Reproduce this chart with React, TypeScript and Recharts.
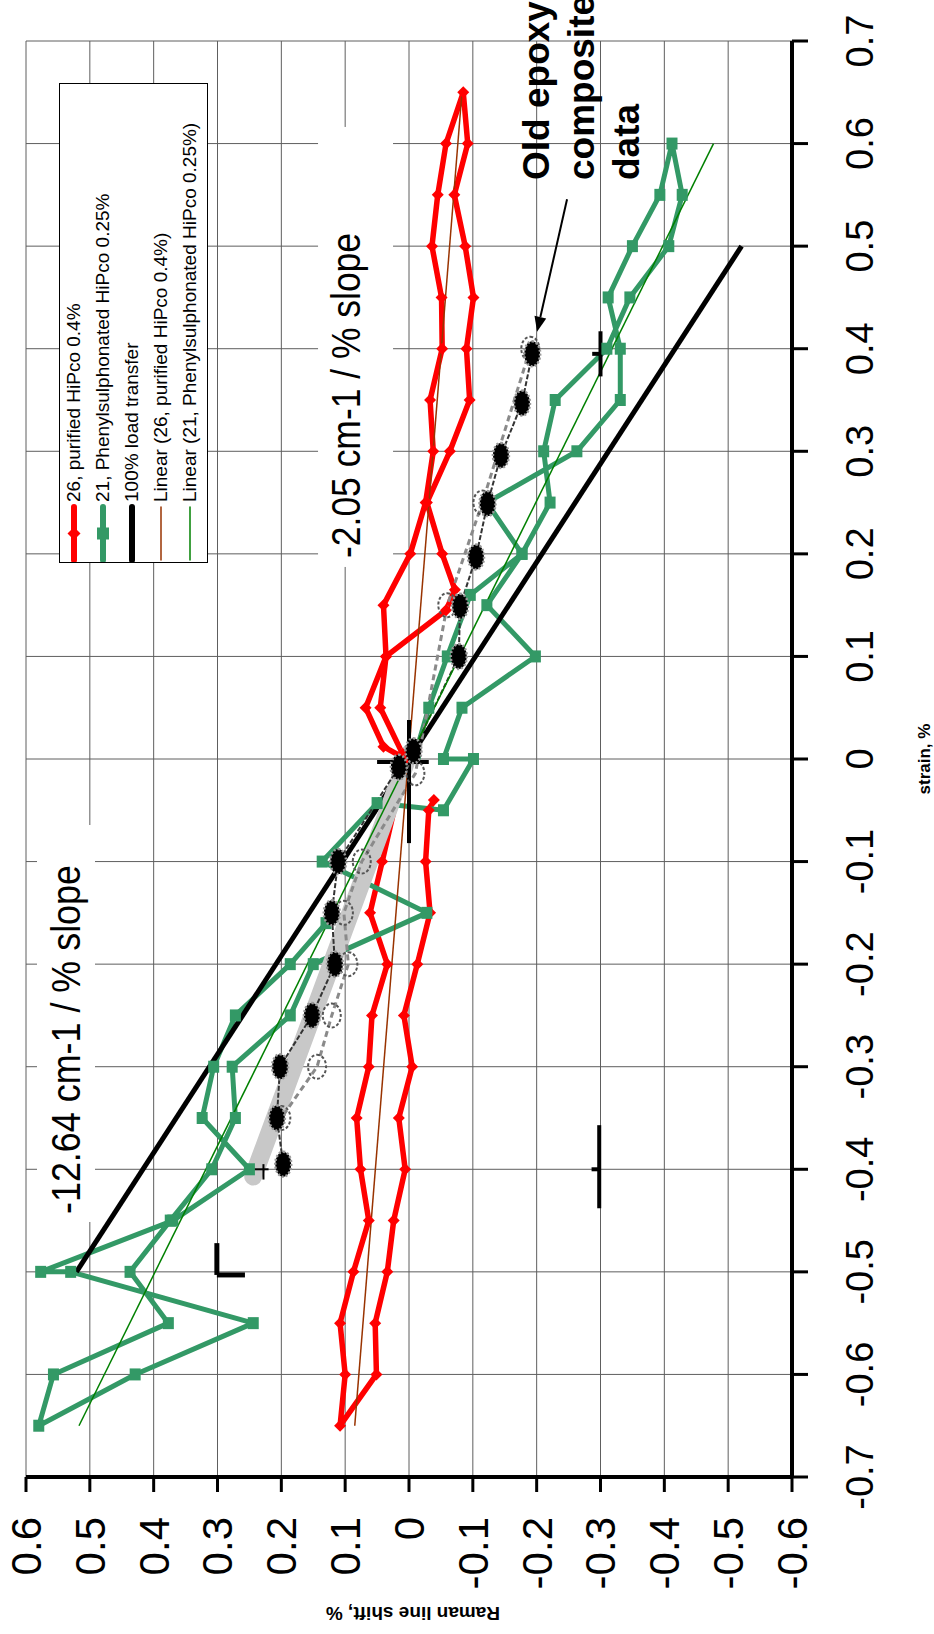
import React from 'react';
import { ComposedChart, Line, Scatter, XAxis, YAxis, CartesianGrid, ReferenceLine } from 'recharts';

const FONT = 'Arial, "Liberation Sans", Helvetica, sans-serif';

const strainTicks = [-0.7, -0.6, -0.5, -0.4, -0.3, -0.2, -0.1, 0, 0.1, 0.2, 0.3, 0.4, 0.5, 0.6, 0.7];
const shiftTicks = [-0.6, -0.5, -0.4, -0.3, -0.2, -0.1, 0, 0.1, 0.2, 0.3, 0.4, 0.5, 0.6];

// 26, purified HiPco 0.4%
const purifiedStrain = [
  0.005, 0.05, 0.1, 0.15, 0.2, 0.25, 0.3, 0.35, 0.4, 0.45, 0.5, 0.55, 0.6, 0.65,
  0.6, 0.55, 0.5, 0.45, 0.4, 0.35, 0.3, 0.25, 0.2, 0.165, 0.145, 0.1, 0.05, 0.012, 0.0,
  -0.1, -0.15, -0.2, -0.25, -0.3, -0.35, -0.4, -0.45, -0.5, -0.55, -0.6, -0.65,
  -0.6, -0.55, -0.5, -0.45, -0.4, -0.35, -0.3, -0.25, -0.2, -0.15, -0.1, -0.05, -0.04,
];
const purifiedShift = [
  0.01, 0.045, 0.036, 0.04, -0.002, -0.026, -0.038, -0.033, -0.052, -0.051, -0.036, -0.045, -0.058, -0.085,
  -0.092, -0.071, -0.088, -0.101, -0.09, -0.095, -0.064, -0.028, -0.052, -0.072, -0.058, 0.036, 0.068, 0.04, 0.005,
  0.042, 0.061, 0.034, 0.058, 0.063, 0.082, 0.076, 0.063, 0.087, 0.108, 0.1, 0.108,
  0.051, 0.053, 0.034, 0.024, 0.006, 0.016, -0.005, 0.008, -0.013, -0.033, -0.026, -0.031, -0.039,
];

// 21, Phenylsulphonated HiPco 0.25%
const sulphStrain = [
  0.005, 0.05, 0.1, 0.16, 0.2, 0.25, 0.3, 0.35, 0.4, 0.45, 0.5, 0.55, 0.6,
  0.55, 0.5, 0.45, 0.4, 0.35, 0.3, 0.25, 0.2, 0.15, 0.1, 0.05, 0.0, 0.0,
  -0.05, -0.043, -0.1, -0.15, -0.2, -0.25, -0.3, -0.35, -0.4, -0.45, -0.5, -0.55, -0.6, -0.65,
  -0.6, -0.55, -0.5, -0.5, -0.45, -0.4, -0.35, -0.3, -0.25, -0.2, -0.16,
];
const sulphShift = [
  -0.01, -0.031, -0.06, -0.096, -0.177, -0.221, -0.211, -0.229, -0.31, -0.346, -0.407, -0.428, -0.412,
  -0.393, -0.35, -0.312, -0.331, -0.331, -0.263, -0.122, -0.177, -0.122, -0.198, -0.083, -0.054, -0.101,
  -0.054, 0.05, 0.136, -0.028, 0.15, 0.186, 0.277, 0.272, 0.309, 0.374, 0.437, 0.377, 0.557, 0.58,
  0.429, 0.244, 0.53, 0.577, 0.37, 0.25, 0.324, 0.306, 0.272, 0.186, 0.13,
];

// 100% load transfer and the two linear fits
const loadStrain = [-0.5, 0.5];
const loadShift = [0.521, -0.521];
const fitPurifiedStrain = [-0.65, 0.65];
const fitPurifiedShift = [0.085, -0.083];
const fitSulphStrain = [-0.65, 0.6];
const fitSulphShift = [0.517, -0.477];

// old epoxy composite data
const epoxyStrain = [0.395, 0.347, 0.296, 0.249, 0.197, 0.149, 0.1, 0.008, -0.008, -0.1, -0.15, -0.2, -0.25, -0.3, -0.35, -0.395];
const epoxyShift = [-0.193, -0.177, -0.144, -0.123, -0.105, -0.08, -0.078, -0.007, 0.016, 0.111, 0.121, 0.116, 0.152, 0.202, 0.207, 0.197];
const epoxyOpenStrain = [0.4, 0.25, 0.15, -0.014, -0.1, -0.15, -0.2, -0.25, -0.3, -0.35];
const epoxyOpenShift = [-0.19, -0.115, -0.06, -0.01, 0.074, 0.102, 0.095, 0.121, 0.144, 0.2];
const epoxyBandStrain = [0.005, -0.407];
const epoxyBandShift = [0.0, 0.244];

// error-bar style marks: [strain1, shift1, strain2, shift2, width]
const errorMarks = [
  [-0.082, 0, 0.038, 0, 4],
  [-0.003, 0.05, -0.003, -0.031, 4],
  [0.373, -0.3, 0.417, -0.3, 4],
  [0.395, -0.287, 0.395, -0.3, 4],
  [-0.438, -0.298, -0.357, -0.298, 4],
  [-0.4, -0.286, -0.4, -0.298, 4],
  [-0.503, 0.301, -0.472, 0.301, 5],
  [-0.503, 0.301, -0.503, 0.257, 5],
  [-0.4, 0.254, -0.4, 0.22, 2],
  [-0.41, 0.228, -0.395, 0.228, 2],
];

const arrowFrom = { x: 0.5457, y: -0.2476 };
const arrowTo = { x: 0.4166, y: -0.2006 };

const slopeLow = { x: -0.4436, y: 0.5154, text: '-12.64 cm-1 / % slope' };
const slopeHigh = { x: 0.196, y: 0.0767, text: '-2.05 cm-1 / % slope' };
const epoxyNote = { x: 0.5645, y: -0.219, lines: ['Old epoxy', 'composite', 'data'] };

const legendItems = [
  { name: '26, purified HiPco 0.4%', color: '#ff0000', width: 6, mark: 'diamond' },
  { name: '21, Phenylsulphonated HiPco 0.25%', color: '#339966', width: 6, mark: 'square' },
  { name: '100% load transfer', color: '#000000', width: 6, mark: 'none' },
  { name: 'Linear (26, purified HiPco 0.4%)', color: '#993300', width: 1.5, mark: 'none' },
  { name: 'Linear (21, Phenylsulphonated HiPco 0.25%)', color: '#008000', width: 1.5, mark: 'none' },
];

const zip = (xs: number[], ys: number[]) => xs.map((x, i) => ({ x, y: ys[i] }));

const ok = (p: any) => Number.isFinite(p.cx) && Number.isFinite(p.cy);

const Diamond = (p: any) => {
  if (!ok(p)) return <g key={'rd' + p.index} />;
  const { cx, cy } = p;
  return <path key={'rd' + p.index} d={`M${cx - 6},${cy} L${cx},${cy - 6} L${cx + 6},${cy} L${cx},${cy + 6} Z`} fill="#ff0000" />;
};

const Square = (p: any) => {
  if (!ok(p)) return <g key={'gs' + p.index} />;
  return <rect key={'gs' + p.index} x={p.cx - 6} y={p.cy - 5.5} width={12} height={11} fill="#339966" />;
};

const BlackBlob = (p: any) => {
  if (!ok(p)) return <g key={'bb' + p.index} />;
  return (
    <ellipse key={'bb' + p.index} cx={p.cx} cy={p.cy} rx={12.5} ry={8} fill="#000"
      stroke="#9a9a9a" strokeWidth={2.5} strokeDasharray="2 2" />
  );
};

const OpenBlob = (p: any) => {
  if (!ok(p)) return <g key={'ob' + p.index} />;
  return (
    <ellipse key={'ob' + p.index} cx={p.cx} cy={p.cy} rx={12} ry={9} fill="none"
      stroke="#555" strokeWidth={2} strokeDasharray="3 2" />
  );
};

const ArrowShape = (p: any) => {
  const { x1, y1, x2, y2 } = p;
  if (![x1, y1, x2, y2].every(Number.isFinite)) return <g />;
  const a = Math.atan2(y2 - y1, x2 - x1);
  const L = 15, W = 6;
  const bx = x2 - L * Math.cos(a);
  const by = y2 - L * Math.sin(a);
  const pts = `${x2},${y2} ${bx + W * Math.sin(a)},${by - W * Math.cos(a)} ${bx - W * Math.sin(a)},${by + W * Math.cos(a)}`;
  return (
    <g>
      <line x1={x1} y1={y1} x2={bx} y2={by} stroke="#000" strokeWidth={2} />
      <polygon points={pts} fill="#000" />
    </g>
  );
};

const SlopeText = (boxLeft: number, boxRight: number, boxTop: number, boxBottom: number, len: number) => (p: any) => {
  if (!ok(p)) return <g />;
  const { cx, cy, payload } = p;
  return (
    <g>
      <rect x={cx - boxLeft} y={cy - boxTop} width={boxLeft + boxRight} height={boxTop + boxBottom} fill="#fff" />
      <text x={cx} y={cy} fontSize={41} fontFamily={FONT} fill="#000" textLength={len} lengthAdjust="spacingAndGlyphs">
        {payload.text}
      </text>
    </g>
  );
};

const EpoxyText = (p: any) => {
  if (!ok(p)) return <g />;
  return (
    <text x={p.cx} y={p.cy} fontSize={37} fontWeight="bold" fontFamily={FONT} fill="#000">
      {epoxyNote.lines.map((l, i) => (
        <tspan key={l} x={p.cx} y={p.cy + i * 45}>{l}</tspan>
      ))}
    </text>
  );
};

const StrainLabel = (p: any) => {
  const vb = p.viewBox || { x: 157, y: 792, width: 1436, height: 142 };
  return (
    <text x={vb.x + vb.width / 2} y={vb.y + 138} textAnchor="middle" fontSize={17} fontWeight="bold" fontFamily={FONT} fill="#000">
      strain, %
    </text>
  );
};

const ShiftLabel = (p: any) => {
  const vb = p.viewBox || { x: 0, y: 26, width: 157, height: 766 };
  const x = vb.x + 27;
  const y = vb.y + vb.height / 2 + 4;
  return (
    <text x={x} y={y} transform={`rotate(-90, ${x}, ${y})`} textAnchor="middle" fontSize={19} fontWeight="bold" fontFamily={FONT} fill="#000">
      Raman line shift, %
    </text>
  );
};

function LegendBox() {
  return (
    <div style={{
      position: 'absolute', left: 1071, top: 59, width: 480, height: 149, boxSizing: 'border-box',
      border: '1.5px solid #000', background: '#fff', fontFamily: FONT, fontSize: 19, color: '#000',
    }}>
      {legendItems.map((it) => (
        <div key={it.name} style={{ display: 'flex', alignItems: 'center', height: 28.8, whiteSpace: 'nowrap' }}>
          <svg width={58} height={28} style={{ flex: 'none' }}>
            <line x1={2} y1={14} x2={55} y2={14} stroke={it.color} strokeWidth={it.width} strokeLinecap="round" />
            {it.mark === 'diamond' && <path d="M22,14 L28.5,7.5 L35,14 L28.5,20.5 Z" fill={it.color} />}
            {it.mark === 'square' && <rect x={22.5} y={8} width={12} height={12} fill={it.color} />}
          </svg>
          <span style={{ marginLeft: 2 }}>{it.name}</span>
        </div>
      ))}
    </div>
  );
}

export default function App() {
  const tickStyle = { fill: '#000', fontFamily: FONT };
  return (
    <div style={{ position: 'fixed', left: 0, top: 0, width: 934, height: 1634, overflow: 'hidden', background: '#fff' }}>
      <div style={{
        position: 'absolute', left: 0, top: 0, width: 1634, height: 934,
        transformOrigin: '0 0', transform: 'translate(0px, 1634px) rotate(-90deg)',
      }}>
        <ComposedChart width={1634} height={934} margin={{ top: 26, right: 41, left: 0, bottom: 0 }}>
          <CartesianGrid stroke="#5e5e5e" strokeWidth={1} />
          <XAxis
            type="number" dataKey="x" domain={[-0.7, 0.7]} ticks={strainTicks} interval={0}
            height={142} tickSize={16} tickMargin={38}
            axisLine={{ stroke: '#000', strokeWidth: 4 }} tickLine={{ stroke: '#000', strokeWidth: 3 }}
            tick={{ ...tickStyle, fontSize: 38 }} tickFormatter={(v) => String(v)}
            label={StrainLabel}
          />
          <YAxis
            type="number" dataKey="y" domain={[-0.6, 0.6]} ticks={shiftTicks} interval={0}
            width={157} tickSize={15} tickMargin={25}
            axisLine={{ stroke: '#000', strokeWidth: 4 }} tickLine={{ stroke: '#000', strokeWidth: 3 }}
            tick={{ ...tickStyle, fontSize: 42 }} tickFormatter={(v) => String(v)}
            label={ShiftLabel}
          />

          <Scatter data={[slopeLow]} dataKey="y" shape={SlopeText(8, 389, 43, 15, 349)} isAnimationActive={false} />
          <Scatter data={[slopeHigh]} dataKey="y" shape={SlopeText(9, 431, 42, 33, 325)} isAnimationActive={false} />

          <Line data={zip(purifiedStrain, purifiedShift)} dataKey="y" stroke="#ff0000" strokeWidth={5.5}
            strokeLinejoin="round" dot={Diamond} activeDot={false} isAnimationActive={false} />
          <Line data={zip(sulphStrain, sulphShift)} dataKey="y" stroke="#339966" strokeWidth={5}
            strokeLinejoin="round" dot={Square} activeDot={false} isAnimationActive={false} />
          <Line data={zip(loadStrain, loadShift)} dataKey="y" stroke="#000" strokeWidth={5}
            dot={false} activeDot={false} isAnimationActive={false} />

          <Line data={zip(epoxyBandStrain, epoxyBandShift)} dataKey="y" stroke="#c8c8c8" strokeWidth={18}
            strokeLinecap="round" dot={false} activeDot={false} isAnimationActive={false} />
          <Line data={zip(epoxyOpenStrain, epoxyOpenShift)} dataKey="y" stroke="#8a8a8a" strokeWidth={3}
            strokeDasharray="6 4" dot={OpenBlob} activeDot={false} isAnimationActive={false} />
          <Line data={zip(epoxyStrain, epoxyShift)} dataKey="y" stroke="#333" strokeWidth={2}
            strokeDasharray="5 2" dot={BlackBlob} activeDot={false} isAnimationActive={false} />

          <Line data={zip(fitPurifiedStrain, fitPurifiedShift)} dataKey="y" stroke="#993300" strokeWidth={1.5}
            dot={false} activeDot={false} isAnimationActive={false} />
          <Line data={zip(fitSulphStrain, fitSulphShift)} dataKey="y" stroke="#008000" strokeWidth={1.5}
            dot={false} activeDot={false} isAnimationActive={false} />

          {errorMarks.map((m, i) => (
            <ReferenceLine key={'em' + i} segment={[{ x: m[0], y: m[1] }, { x: m[2], y: m[3] }]}
              stroke="#000" strokeWidth={m[4]} ifOverflow="visible" />
          ))}
          <ReferenceLine segment={[arrowFrom, arrowTo]} ifOverflow="visible" shape={ArrowShape} />

          <Scatter data={[epoxyNote]} dataKey="y" shape={EpoxyText} isAnimationActive={false} />
        </ComposedChart>
        <LegendBox />
      </div>
    </div>
  );
}
